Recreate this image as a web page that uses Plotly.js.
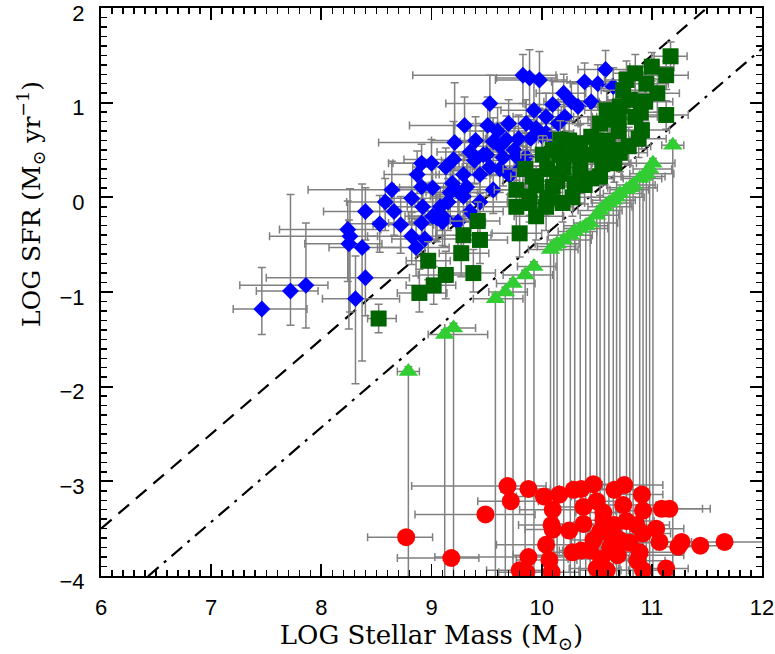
<!DOCTYPE html>
<html>
<head>
<meta charset="utf-8">
<script src="https://cdn.plot.ly/plotly-3.0.1.min.js"></script>
<style>html,body{margin:0;padding:0;background:#fff;}#chart{width:775px;height:654px;}</style>
</head>
<body>
<div id="chart"></div>
<script>
// ---- Blue diamonds ----
const blueX = [7.46,7.72,7.86,8.24,8.26,8.25,8.37,8.40,8.53,8.40,8.31,8.64,8.58,8.66,8.72,8.82,8.87,8.91,9.01,8.92,8.91,9.04,8.82,8.94,8.86,8.91,9.00,9.13,9.08,9.05,9.12,9.24,9.19,9.29,9.39,9.29,9.44,9.56,9.71,9.53,9.30,9.21,9.51,9.70,9.56,9.62,9.68,9.79,9.53,9.44,9.83,9.83,9.89,9.98,10.58,10.39,10.51,10.65,10.27,10.33,10.45,10.10,10.04,10.21,10.15,9.95,9.86,10.09,9.86,9.80,9.32,10.04,9.77,9.01,9.10,9.17,9.47,9.62,
  9.60,9.75,9.90,10.00,9.65,9.93,10.20,9.40,9.35,9.50,9.20,9.15,9.35,9.25];
const blueY = [-1.18,-0.99,-0.93,-0.34,-0.41,-0.49,-0.53,-0.15,-0.28,-0.85,-1.07,0.08,-0.05,-0.15,-0.29,-0.01,0.24,0.11,0.10,-0.10,-0.27,-0.20,-0.41,-0.44,-0.53,0.36,0.36,0.32,-0.10,-0.22,-0.22,-0.26,0.15,0.24,0.39,0.01,-0.05,0.08,0.23,0.99,0.76,0.58,0.76,0.78,0.59,0.54,0.61,0.62,0.32,0.24,0.33,1.29,1.26,1.24,1.35,1.22,1.20,1.17,1.01,0.96,1.01,0.98,0.85,0.85,0.78,0.73,0.78,0.62,0.43,0.30,0.11,0.68,0.43,-0.20,-0.26,0.05,0.45,0.30,
  0.70,0.50,0.62,0.65,0.42,0.92,1.10,0.60,0.48,0.45,0.40,-0.05,-0.15,0.05];
const blueXlo = [.26,.31,.60,.62,.73,.40,.30,.38,.30,.90,.30,.76,.35,.30,.25,.25,.30,.25,.30,.35,.30,.25,.40,.30,.35,.30,.35,.30,.30,.25,.30,.25,.30,.25,.30,.30,.25,.30,.25,.40,.50,.69,.30,.30,.30,.25,.25,.30,.25,.25,.25,1.0,.30,.40,.25,.30,.25,.25,.25,.25,.30,.25,.30,.25,.25,.30,.30,.25,.25,.25,.30,.25,.25,.25,.25,.25,.25,.25,
  .30,.25,.30,.25,.35,.30,.25,.40,.30,.25,.45,.30,.25,.30];
const blueXhi = [.41,.25,.20,.30,.25,.30,.35,.25,.40,.40,.40,.40,.30,.35,.30,.25,.20,.20,.30,.25,.30,.30,.30,.30,.30,.25,.25,.20,.25,.25,.30,.25,.25,.25,.25,.30,.25,.25,.25,.30,.30,.30,.25,.25,.25,.25,.25,.25,.25,.25,.25,.30,.25,.25,.20,.25,.25,.20,.25,.20,.20,.25,.25,.25,.20,.25,.25,.25,.25,.25,.25,.25,.20,.25,.25,.25,.25,.25,
  .25,.20,.25,.20,.25,.25,.20,.30,.25,.25,.30,.25,.30,.25];
const blueYlo = [.27,.36,.45,.55,.80,.90,1.20,.30,.30,.40,.90,.25,.30,.25,.30,.25,.20,.25,.25,.30,.35,.25,.30,.30,.30,.20,.20,.25,.25,.25,.30,.25,.20,.25,.25,.25,.25,.25,.20,.25,.30,.30,.25,.25,.25,.25,.20,.25,.25,.20,.25,.30,.40,.30,.20,.20,.25,.20,.20,.20,.25,.25,.25,.25,.25,.25,.25,.25,.25,.25,.25,.20,.25,.25,.25,.25,.25,.25,
  .25,.20,.25,.20,.30,.25,.20,.30,.25,.20,.35,.30,.25,.30];
const blueYhi = [.44,1.02,.66,.30,.50,.25,.67,.25,.30,.30,.45,.30,.25,.25,.30,.25,.25,.30,.20,.25,.25,.25,.25,.30,.30,.20,.25,.20,.20,.25,.25,.25,.25,.20,.25,.25,.25,.20,.25,.30,.30,.63,.30,.25,.25,.25,.25,.25,.25,.25,.25,.22,.30,.30,.20,.20,.20,.20,.20,.25,.20,.25,.25,.20,.25,.25,.25,.20,.25,.25,.25,.25,.20,.25,.25,.25,.25,.25,
  .25,.25,.20,.25,.25,.30,.20,.25,.30,.25,.40,.25,.30,.25];

// ---- Dark green squares ----
const sqX = [8.52,8.89,9.02,8.97,9.13,9.38,9.27,9.29,9.44,9.42,9.80,9.77,9.89,10.04,10.19,9.95,10.14,10.39,10.35,10.16,10.01,10.16,10.35,10.53,10.71,10.66,11.17,11.00,11.13,10.85,10.77,11.13,10.94,10.80,10.71,10.88,10.91,10.79,10.65,10.62,10.53,10.45,10.35,10.17,10.10,10.20,10.45,10.53,10.10,9.92,9.89,10.59,10.74,9.77,10.28,10.60,10.85,10.95,
  9.85,10.05,10.25,10.30,10.45,10.55,10.70,10.50,10.25,10.05,9.95,10.35,10.70,10.90,11.05];
const sqY = [-1.28,-1.01,-0.93,-0.67,-0.82,-0.80,-0.59,-0.40,-0.45,-0.25,-0.38,-0.10,-0.06,-0.10,-0.06,0.13,0.17,0.13,0.24,0.25,0.45,0.45,0.45,0.47,0.47,0.36,1.49,1.38,1.29,1.31,1.24,0.87,1.01,1.03,0.96,0.62,0.71,0.54,0.50,0.82,0.78,0.64,0.57,0.61,0.50,0.32,0.20,0.22,0.11,0.22,0.01,0.92,1.13,0.08,0.00,0.60,0.85,1.20,
  0.30,0.30,0.45,0.15,0.45,0.35,0.70,0.60,0.60,0.00,-0.20,0.35,0.85,0.90,1.10];
const sqXlo = [.10,.20,.25,.20,.25,.20,.20,.25,.20,.25,.25,.30,.20,.20,.25,.20,.20,.20,.25,.20,.20,.20,.15,.20,.20,.20,.15,.20,.20,.20,.20,.20,.20,.20,.20,.20,.20,.20,.25,.20,.20,.15,.20,.20,.20,.20,.20,.20,.25,.20,.20,.20,.20,.20,.20,.20,.20,.20,
  .20,.25,.20,.15,.20,.20,.25,.20,.20,.25,.20,.20,.20,.15,.20];
const sqXhi = [.16,.25,.20,.20,.30,.20,.25,.25,.25,.20,.20,.25,.20,.25,.20,.20,.25,.20,.20,.20,.20,.25,.20,.20,.25,.20,.15,.20,.20,.20,.20,.20,.25,.20,.20,.25,.25,.20,.20,.20,.20,.20,.20,.20,.20,.20,.20,.20,.20,.20,.20,.20,.20,.20,.25,.20,.20,.20,
  .25,.20,.20,.25,.20,.25,.20,.20,.25,.20,.25,.20,.25,.20,.20];
const sqYlo = [.15,.20,.20,.20,.25,.20,.25,.20,.25,.25,.25,.25,.20,.25,.20,.20,.20,.20,.20,.20,.20,.20,.20,.20,.20,.20,.15,.15,.15,.20,.20,.15,.20,.20,.20,.20,.20,.20,.20,.20,.20,.20,.20,.20,.20,.20,.20,.20,.20,.20,.20,.20,.20,.20,.20,.20,.20,.20,
  .20,.25,.20,.20,.15,.20,.20,.25,.20,.20,.25,.20,.20,.15,.20];
const sqYhi = [.15,.25,.20,.20,.25,.25,.20,.25,.20,.20,.25,.25,.20,.20,.25,.20,.20,.20,.20,.20,.20,.20,.20,.20,.20,.20,.15,.15,.15,.20,.20,.15,.20,.20,.20,.20,.20,.20,.20,.20,.20,.20,.20,.20,.20,.20,.20,.20,.20,.20,.20,.20,.20,.20,.20,.20,.20,.20,
  .20,.20,.25,.20,.20,.20,.15,.20,.20,.25,.20,.20,.20,.20,.15];

// ---- Light green triangles ----
const triX = [8.79,9.12,9.20,9.58,9.67,9.74,9.85,9.93,10.08,10.11,10.14,10.20,10.26,10.30,10.35,10.40,10.44,10.50,10.53,10.57,10.61,10.65,10.68,10.71,10.77,10.80,10.83,10.89,10.92,10.95,10.98,11.01,11.19];
const triY = [-1.84,-1.45,-1.38,-1.07,-1.00,-0.91,-0.82,-0.73,-0.55,-0.52,-0.49,-0.45,-0.40,-0.36,-0.33,-0.30,-0.27,-0.19,-0.14,-0.10,-0.06,-0.03,0.00,0.04,0.08,0.10,0.13,0.20,0.22,0.25,0.30,0.36,0.55];
const triXlo = [.10,.15,.08,.20,.15,.15,.20,.15,.20,.15,.20,.15,.20,.15,.15,.20,.15,.15,.20,.15,.15,.20,.15,.15,.15,.20,.15,.15,.20,.15,.15,.20,.10];
const triXhi = [.10,.39,.20,.25,.20,.20,.25,.20,.25,.20,.20,.25,.20,.20,.25,.20,.25,.20,.20,.25,.20,.20,.25,.20,.20,.25,.20,.20,.20,.25,.20,.20,.10];
const triYlo = [2.76,3.15,3.22,3.53,3.60,3.69,3.78,3.87,4.05,4.08,4.11,4.15,4.20,4.24,4.27,4.30,4.33,4.41,4.46,4.50,4.54,4.57,4.60,4.64,4.68,4.70,4.73,4.80,4.82,4.85,4.90,4.96,5.15];
const triYhi = [.05,.05,.05,.05,.05,.05,.05,.05,.05,.05,.05,.05,.05,.05,.05,.05,.05,.05,.05,.05,.05,.05,.05,.05,.05,.05,.05,.05,.05,.05,.05,.05,.05];

// ---- Red circles ----
const redX = [8.77,9.18,9.49,9.69,9.72,9.88,10.02,10.16,10.29,10.36,10.47,10.66,10.75,10.91,10.10,10.38,10.50,10.56,10.74,10.92,11.09,11.16,10.09,10.10,10.25,10.38,10.56,10.66,10.77,10.86,11.04,10.53,10.62,10.71,10.92,10.80,11.07,11.24,11.27,11.44,11.66,10.04,9.88,10.07,10.28,10.36,10.44,10.54,10.69,10.89,10.87,9.80,9.86,10.09,10.50,10.59,10.92,11.13,10.62,10.47];
const redY = [-3.59,-3.81,-3.35,-3.05,-3.21,-3.08,-3.16,-3.14,-3.09,-3.08,-3.03,-3.09,-3.04,-3.14,-3.30,-3.27,-3.21,-3.33,-3.25,-3.31,-3.29,-3.29,-3.46,-3.51,-3.52,-3.45,-3.41,-3.46,-3.42,-3.46,-3.50,-3.53,-3.56,-3.62,-3.55,-3.65,-3.64,-3.69,-3.64,-3.68,-3.64,-3.67,-3.80,-3.83,-3.75,-3.73,-3.73,-3.82,-3.78,-3.75,-3.84,-3.94,-3.96,-3.96,-3.92,-3.94,-3.94,-3.92,-3.70,-3.62];
const redXlo = [.35,.49,.64,.87,.30,.25,.25,.20,.25,.20,.20,.25,.20,.25,.30,.25,.20,.25,.20,.25,.20,.25,.30,.25,.20,.25,.20,.25,.20,.25,.20,.25,.20,.25,.20,.25,.20,.20,.25,.25,.30,.45,.85,.30,.25,.20,.25,.30,.95,.25,.20,.30,.25,.20,.25,.25,.20,.25,.20,.20];
const redXhi = [.24,.25,.45,.35,.25,.20,.25,.20,.20,.25,.30,.25,.35,.19,.25,.20,.25,.20,.30,.20,.44,.30,.20,.25,.25,.20,.25,.20,.25,.30,.25,.20,.25,.20,.25,.20,.25,.25,.20,.25,.35,.30,.35,.25,.25,.25,.20,.25,.60,.30,.25,.25,.20,.25,.20,.20,.25,.20,.20,.20];

// ---- Reference lines (slope, intercept) ----
const lineSlope = 1.0;
const dashIntercept = -9.5;
const dashDotIntercept = -10.43;
const xRange = [6, 12];
const yRange = [-4, 2];

const errColor = 'rgb(128,128,128)';
function errBar(lo, hi){ return {type:'data', symmetric:false, array:hi, arrayminus:lo, color:errColor, thickness:1.5, width:4}; }

const lineXs = xRange.slice();
const traces = [
  {x: lineXs, y: lineXs.map(v => lineSlope*v + dashIntercept), mode:'lines', line:{color:'black', width:2.2, dash:'14px,9px'}, hoverinfo:'skip'},
  {x: lineXs, y: lineXs.map(v => lineSlope*v + dashDotIntercept), mode:'lines', line:{color:'black', width:2.2, dash:'14px,7px,3px,7px'}, hoverinfo:'skip'},
  {x: blueX, y: blueY, mode:'markers', marker:{symbol:'diamond', size:13, color:'rgb(0,0,255)', line:{width:0}},
   error_x: errBar(blueXlo, blueXhi), error_y: errBar(blueYlo, blueYhi)},
  {x: sqX, y: sqY, mode:'markers', marker:{symbol:'square', size:16, color:'rgb(0,100,0)', line:{width:0}},
   error_x: errBar(sqXlo, sqXhi), error_y: errBar(sqYlo, sqYhi)},
  {x: triX, y: triY, mode:'markers', marker:{symbol:'triangle-up', size:17, color:'rgb(50,205,50)', line:{width:0}},
   error_x: errBar(triXlo, triXhi), error_y: errBar(triYlo, triYhi)},
  {x: redX, y: redY, mode:'markers', marker:{symbol:'circle', size:18, color:'rgb(255,0,0)', line:{width:0}},
   error_x: errBar(redXlo, redXhi)}
];

const axisCommon = {
  showgrid:false, zeroline:false, showline:true, linecolor:'black', linewidth:2,
  ticks:'inside', ticklen:12, tickwidth:1.8, tickcolor:'black', mirror:'ticks',
  minor:{ticks:'inside', ticklen:6, tickwidth:1.5, tickcolor:'black', dtick:0.1},
  tickfont:{family:'Liberation Sans, Arial, sans-serif', size:22, color:'black'},
  ticklabeloverflow:'allow',
  dtick:1, fixedrange:true
};

const layout = {
  width:775, height:654,
  margin:{l:101, r:13, t:8, b:78},
  paper_bgcolor:'white', plot_bgcolor:'white',
  showlegend:false,
  xaxis: Object.assign({}, axisCommon, {range:xRange, tick0:6, ticklabelstandoff:11,
    title:{text:'LOG Stellar Mass (M<sub>⊙</sub>)', font:{family:'DejaVu Serif, serif', size:26, color:'black'}, standoff:2}}),
  yaxis: Object.assign({}, axisCommon, {range:yRange, tick0:-4, ticklabelstandoff:10, ticklabelshift:5}),
  annotations:[{
    text:'LOG SFR (M<sub>⊙</sub> yr<sup>−1</sup>)', textangle:-90,
    xref:'paper', yref:'paper', x:0, y:0.655, xanchor:'center', yanchor:'middle',
    xshift:-70, showarrow:false,
    font:{family:'DejaVu Serif, serif', size:25, color:'black'}
  }]
};

Plotly.newPlot('chart', traces, layout, {staticPlot:true, displayModeBar:false});
</script>
</body>
</html>
